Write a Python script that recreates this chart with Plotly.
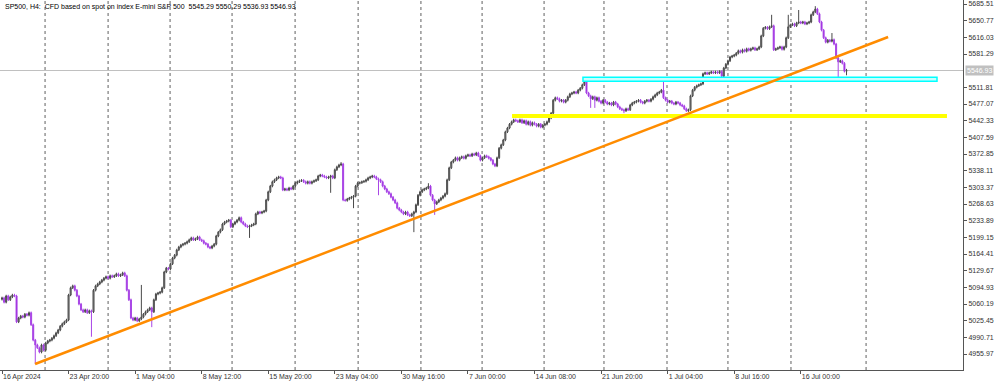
import plotly.graph_objects as go

# ---------------- data ----------------
closes = [
    5073, 5064, 5077, 5069, 5075, 5079, 5077, 5023, 5031, 5035,
    5033, 5039, 5037, 5042, 5017, 4985, 4975, 4969, 4960, 4975,
    4964, 4979, 4983, 4985, 4989, 4994, 5000, 5006, 5014, 5019,
    5023, 5027, 5079, 5094, 5098, 5089, 5077, 5060, 5048, 5044,
    5048, 5042, 5046, 5044, 5089, 5098, 5102, 5106, 5110, 5114,
    5117, 5114, 5119, 5117, 5119, 5123, 5119, 5121, 5125, 5119,
    5089, 5069, 5031, 5027, 5031, 5025, 5029, 5033, 5039, 5044,
    5048, 5052, 5044, 5069, 5081, 5083, 5085, 5094, 5127, 5135,
    5133, 5144, 5156, 5162, 5173, 5179, 5183, 5185, 5187, 5190,
    5194, 5198, 5194, 5196, 5200, 5194, 5192, 5187, 5185, 5179,
    5177, 5181, 5185, 5202, 5210, 5215, 5227, 5231, 5233, 5235,
    5221, 5227, 5231, 5235, 5240, 5231, 5227, 5223, 5221, 5223,
    5225, 5227, 5248, 5252, 5250, 5252, 5254, 5277, 5294, 5306,
    5315, 5319, 5323, 5325, 5323, 5298, 5300, 5298, 5302, 5300,
    5306, 5312, 5315, 5317, 5318, 5315, 5312, 5315, 5312, 5315,
    5317, 5319, 5327, 5329, 5327, 5325, 5323, 5325, 5327, 5323,
    5340, 5346, 5350, 5352, 5277, 5276, 5279, 5281, 5283, 5285,
    5306, 5312, 5313, 5315, 5316, 5319, 5323, 5325, 5327, 5325,
    5321, 5319, 5315, 5306, 5300, 5294, 5290, 5283, 5277, 5271,
    5260, 5256, 5252, 5248, 5252, 5246, 5244, 5248, 5252, 5267,
    5287, 5294, 5298, 5300, 5302, 5306, 5287, 5277, 5269, 5273,
    5277, 5281, 5285, 5290, 5319, 5344, 5356, 5360, 5365, 5360,
    5365, 5367, 5364, 5369, 5371, 5369, 5373, 5371, 5375, 5369,
    5360, 5365, 5369, 5367, 5364, 5360, 5352, 5348, 5365, 5385,
    5392, 5402, 5419, 5427, 5435, 5440, 5444, 5442, 5440, 5444,
    5438, 5442, 5435, 5440, 5433, 5438, 5435, 5431, 5435, 5429,
    5433, 5435, 5440, 5448, 5458, 5485, 5490, 5488, 5483, 5485,
    5481, 5485, 5492, 5498, 5500, 5502, 5500, 5506, 5510, 5517,
    5523, 5500, 5494, 5488, 5492, 5485, 5490, 5483, 5479, 5485,
    5481, 5477, 5479, 5475, 5481, 5477, 5471, 5467, 5465, 5463,
    5467, 5465, 5475, 5479, 5481, 5483, 5485, 5481, 5479, 5483,
    5485, 5483, 5487, 5492, 5496, 5500, 5502, 5506, 5490, 5485,
    5481, 5483, 5479, 5477, 5481, 5479, 5475, 5473, 5467, 5463,
    5465, 5494, 5506, 5512, 5515, 5517, 5519, 5540, 5542, 5540,
    5542, 5544, 5542, 5544, 5542, 5545, 5535, 5552, 5560, 5567,
    5575, 5577, 5579, 5583, 5588, 5585, 5590, 5587, 5592, 5589,
    5592, 5594, 5590, 5592, 5596, 5619, 5635, 5637, 5634, 5638,
    5640, 5590, 5592, 5594, 5596, 5591, 5596, 5615, 5638, 5642,
    5644, 5640, 5646, 5648, 5646, 5648, 5644, 5646, 5648, 5663,
    5669, 5675, 5665, 5648, 5631, 5615, 5606, 5610, 5608, 5611,
    5602, 5573, 5565, 5567, 5562, 5545.29, 5546.93,
]
first_open = 5070
# notable wick extremes (bar index -> price)
wick_highs = {67: 5100, 163: 5356, 205: 5312, 280: 5527, 318: 5527, 370: 5663,
              378: 5663, 383: 5673, 391: 5681, 399: 5625, 406: 5550.29}
wick_lows = {16: 4935, 43: 4992, 72: 5012, 119: 5198, 158: 5292, 169: 5260,
             181: 5287, 198: 5210, 208: 5246, 283: 5469, 285: 5469, 299: 5458,
             402: 5531, 406: 5536.93}

x_tick_bars = [0, 32, 64, 96, 128, 160, 192, 224, 256, 288, 320, 352, 384]
x_tick_labels = ["16 Apr 2024", "23 Apr 20:00", "1 May 04:00", "8 May 12:00",
                 "15 May 20:00", "23 May 04:00", "30 May 16:00", "7 Jun 00:00",
                 "14 Jun 08:00", "21 Jun 20:00", "1 Jul 04:00", "8 Jul 16:00",
                 "16 Jul 00:00"]
grid_bars = [20.7, 51, 80.8, 110.6, 140.9, 171.2, 201.4, 230.8, 260.6, 289.4,
             319.7, 349.0, 379.3, 415.4]
y_ticks = [5685.51, 5650.77, 5616.03, 5581.29, 5511.81, 5477.07, 5442.33,
           5407.59, 5372.85, 5338.11, 5303.37, 5268.63, 5233.89, 5199.15,
           5164.41, 5129.67, 5094.93, 5060.19, 5025.45, 4990.71, 4955.97]
last_price = 5546.93

# analyst drawings (bar index / price)
trend_bars = [15.9, 426.0]
trend_prices = [4935.2, 5616.7]
cyan_zone_bars = [279.3, 449.5]
cyan_zone_prices = [5524.4, 5533.0]
yellow_zone_bars = [245.2, 454.3]
yellow_zone_prices = [5448.0, 5456.5]

header = ("SP500, H4:  CFD based on spot on index E-mini S&P 500  "
          "5545.29 5550.29 5536.93 5546.93")

# ---------------- build OHLC ----------------
n = len(closes)
bars = list(range(n))
opens = [first_open] + closes[:-1]
pad = 2.5
highs = [wick_highs.get(i, max(o, c) + pad) for i, (o, c) in enumerate(zip(opens, closes))]
lows = [wick_lows.get(i, min(o, c) - pad) for i, (o, c) in enumerate(zip(opens, closes))]

fig = go.Figure()
fig.add_trace(go.Candlestick(
    x=bars, open=opens, high=highs, low=lows, close=closes,
    increasing=dict(line=dict(color="#4a4a4a", width=1), fillcolor="#9a9a9a"),
    decreasing=dict(line=dict(color="#a846e6", width=1), fillcolor="#9400d3"),
    whiskerwidth=0, showlegend=False, hoverinfo="skip",
))

shapes = []
for g in grid_bars:
    shapes.append(dict(type="line", xref="x", yref="paper", x0=g, x1=g, y0=0, y1=1,
                       line=dict(color="#606060", width=1, dash="dot"), layer="below"))
shapes.append(dict(type="line", xref="paper", yref="y", x0=0, x1=1,
                   y0=last_price, y1=last_price,
                   line=dict(color="#c0c0c0", width=1), layer="below"))
shapes.append(dict(type="rect", xref="x", yref="y",
                   x0=yellow_zone_bars[0], x1=yellow_zone_bars[1],
                   y0=yellow_zone_prices[0], y1=yellow_zone_prices[1],
                   fillcolor="#ffff00", line=dict(width=0)))
shapes.append(dict(type="rect", xref="x", yref="y",
                   x0=cyan_zone_bars[0], x1=cyan_zone_bars[1],
                   y0=cyan_zone_prices[0], y1=cyan_zone_prices[1],
                   fillcolor="rgba(200,255,255,1)", line=dict(color="#00ffff", width=1.5)))
shapes.append(dict(type="line", xref="x", yref="y",
                   x0=trend_bars[0], x1=trend_bars[1],
                   y0=trend_prices[0], y1=trend_prices[1],
                   line=dict(color="#ff8c00", width=2.5)))

font_family = "Liberation Sans, Arial, sans-serif"
fig.update_layout(
    width=1000, height=383,
    margin=dict(l=0, r=37, t=0, b=13),
    paper_bgcolor="white", plot_bgcolor="white",
    shapes=shapes,
    font=dict(family=font_family, size=7, color="#333333"),
    xaxis=dict(range=[-0.96, 462.0], showgrid=False, zeroline=False,
               showline=True, mirror=True, linecolor="#555555", linewidth=1,
               ticks="outside", ticklen=3, tickcolor="#555555",
               tickvals=x_tick_bars, ticktext=x_tick_labels,
               ticklabelposition="outside right",
               tickfont=dict(size=7, color="#333333"),
               rangeslider=dict(visible=False), automargin=False, fixedrange=True),
    yaxis=dict(range=[4922.7, 5693.85], side="right", showgrid=False, zeroline=False,
               showline=True, mirror=True, linecolor="#555555", linewidth=1,
               ticks="outside", ticklen=3, tickcolor="#555555",
               tickvals=y_ticks, ticktext=[f"{v:.2f}" for v in y_ticks],
               tickfont=dict(size=7, color="#333333"), automargin=False, fixedrange=True),
    annotations=[
        dict(text=header, xref="paper", yref="paper", x=0.003, y=0.997,
             xanchor="left", yanchor="top", showarrow=False,
             font=dict(size=7, color="#000000", family=font_family)),
        dict(text=f"{last_price:.2f}", xref="paper", yref="y", x=1, y=last_price,
             xanchor="left", yanchor="middle", xshift=2, showarrow=False,
             bgcolor="#c0c0c0", borderpad=1,
             font=dict(size=7, color="#ffffff", family=font_family)),
    ],
)

fig.write_html(
    "out.html",
    config={"displayModeBar": False},
    post_script="document.body.style.margin='0';document.body.style.overflow='hidden';",
)
